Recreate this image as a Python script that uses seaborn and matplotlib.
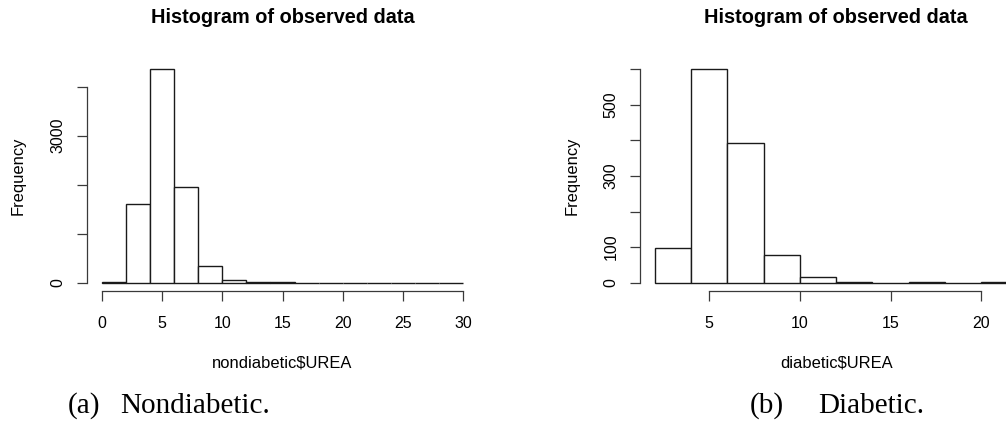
import numpy as np
import seaborn as sb
import matplotlib.pyplot as plt
import matplotlib.ticker as mticker

# bin edges (width 2) and counts
nondiab_edges = list(range(0, 32, 2))
nondiab_counts = [15, 1600, 4355, 1947, 347, 55, 12, 4, 1, 0, 0, 0, 0, 0, 1]

diab_edges = list(range(2, 24, 2))
diab_counts = [97, 600, 392, 78, 15, 3, 0, 1, 0, 1]

nondiab_xticks = [0, 5, 10, 15, 20, 25, 30]
nondiab_yticks = [0, 1000, 2000, 3000, 4000]
nondiab_ylabels = ['0', '', '', '3000', '']

diab_xticks = [5, 10, 15, 20]
diab_yticks = [0, 100, 200, 300, 400, 500, 600]
diab_ylabels = ['0', '100', '', '300', '', '500', '']

titles = ['Histogram of observed data', 'Histogram of observed data']
xlabels = ['nondiabetic$UREA', 'diabetic$UREA']
captions = [('(a)', 'Nondiabetic.'), ('(b)', 'Diabetic.')]

sb.set_theme(style='ticks')
plt.rcParams['font.family'] = ['Liberation Sans', 'DejaVu Sans']
plt.rcParams['text.color'] = 'black'
plt.rcParams['axes.labelcolor'] = 'black'
plt.rcParams['axes.titlecolor'] = 'black'

W, H = 1006, 424
fig = plt.figure(figsize=(W / 100, H / 100), dpi=100)

# axes boxes in pixels: left, top, width, height (R plot regions)
boxes = [(87.2, 60.8, 390.6, 230.4), (640.4, 60.8, 391.6, 230.4)]
axes = [fig.add_axes([l / W, (H - t - h) / H, w / W, h / H]) for l, t, w, h in boxes]

panels = [
    (nondiab_edges, nondiab_counts, nondiab_xticks, nondiab_yticks, nondiab_ylabels, (-1.2, 31.2), (-174, 4529)),
    (diab_edges, diab_counts, diab_xticks, diab_yticks, diab_ylabels, (1.2, 22.8), (-24, 624)),
]

axcol = '#3a3a3a'
ylab_x = [(18 - 87.2) / 390.6, (572 - 640.4) / 391.6]

for i, (ax, (edges, counts, xt, yt, ylab, xlim, ylim)) in enumerate(zip(axes, panels)):
    centers = (np.array(edges[:-1]) + np.array(edges[1:])) / 2
    sb.histplot(x=centers, weights=counts, bins=edges, ax=ax,
                color='white', edgecolor='#1a1a1a', linewidth=1.0, alpha=1)
    ax.set_xlim(*xlim)
    ax.set_ylim(*ylim)

    ax.set_xticks(xt)
    ax.set_yticks(yt)
    ax.yaxis.set_major_formatter(mticker.FixedFormatter(ylab))
    for s in ['top', 'right']:
        ax.spines[s].set_visible(False)
    ax.spines['bottom'].set_bounds(xt[0], xt[-1])
    ax.spines['left'].set_bounds(yt[0], yt[-1])
    for s in ['bottom', 'left']:
        ax.spines[s].set_color(axcol)
        ax.spines[s].set_linewidth(0.9)

    ax.tick_params(axis='both', length=7.5, width=0.9, color=axcol,
                   labelsize=11.5, labelcolor='black', direction='out')
    ax.tick_params(axis='x', pad=10)
    ax.tick_params(axis='y', pad=8)
    for lab in ax.get_yticklabels():
        lab.set_rotation(90)
        lab.set_va('center')

    ax.set_title(titles[i], fontsize=14.3, fontweight='bold', pad=27, color='black')
    ax.set_xlabel(xlabels[i], fontsize=11.9)
    ax.xaxis.set_label_coords(0.5, (291.2 - 363) / 230.4)
    ax.xaxis.label.set_va('center')
    ax.set_ylabel('Frequency', fontsize=11.9)
    ax.yaxis.set_label_coords(ylab_x[i], 0.5)
    ax.yaxis.label.set_va('center')
    ax.grid(False)

# figure captions in serif
cap_pos = [(68, 120), (750, 818)]
for (a, b), (xa, xb) in zip(captions, cap_pos):
    fig.text(xa / W, (H - 413) / H, a, family='Liberation Serif', fontsize=21,
             va='baseline', color='black')
    fig.text(xb / W, (H - 413) / H, b, family='Liberation Serif', fontsize=21,
             va='baseline', color='black')

fig.savefig('out.png', dpi=100, facecolor='white')
